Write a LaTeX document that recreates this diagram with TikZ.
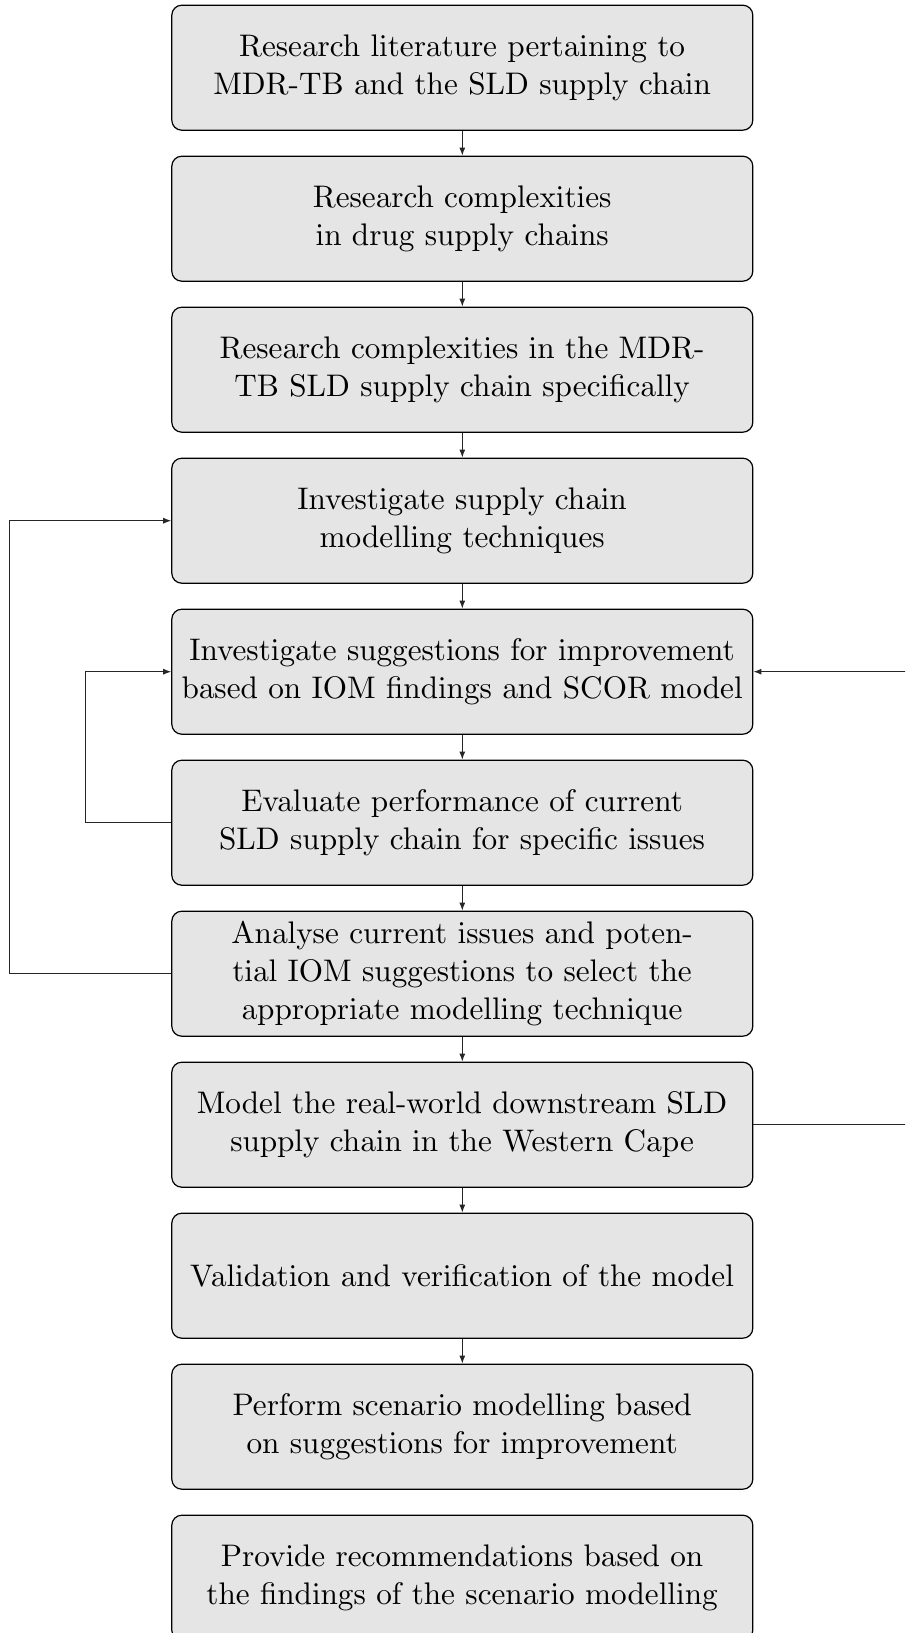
\documentclass[tikz,border=0pt]{standalone}
\usetikzlibrary{arrows.meta}
% Computer Modern at its 10pt design size, set large
\font\boxfont=cmr10 at 15.6pt
\begin{document}
\begin{tikzpicture}[x=1pt,y=1pt,
  stepbox/.style={draw=black,line width=0.6pt,fill=black!10,rounded corners=5pt,
    minimum width=290.5pt,minimum height=62.5pt,inner sep=0pt,align=center,
    font={\fontsize{15.6}{19.2}\selectfont\boxfont}},
  flow/.style={line width=0.5pt,draw=black!85,-{Latex[length=4pt,width=3pt]}},
  link/.style={line width=0.5pt,draw=black!85}]
\clip (0,0) rectangle (452.5,-816.5);
\useasboundingbox (0,0) rectangle (452.5,-816.5);
\def\cx{231.15}
\node[stepbox] (b1) at (\cx,-33.85) {Research literature pertaining to\\MDR-TB and the SLD supply chain};
\node[stepbox] (b2) at (\cx,-109.35) {Research complexities\\in drug supply chains};
\node[stepbox] (b3) at (\cx,-184.85) {Research complexities in the MDR-\\TB SLD supply chain specifically};
\node[stepbox] (b4) at (\cx,-260.35) {Investigate supply chain\\modelling techniques};
\node[stepbox] (b5) at (\cx,-335.85) {Investigate suggestions for improvement\\based on IOM findings and SCOR model};
\node[stepbox] (b6) at (\cx,-411.35) {Evaluate performance of current\\SLD supply chain for specific issues};
\node[stepbox] (b7) at (\cx,-486.85) {Analyse current issues and poten-\\tial IOM suggestions to select the\\appropriate modelling technique};
\node[stepbox] (b8) at (\cx,-562.35) {Model the real-world downstream SLD\\supply chain in the Western Cape};
\node[stepbox] (b9) at (\cx,-637.85) {Validation and verification of the model};
\node[stepbox] (b10) at (\cx,-713.35) {Perform scenario modelling based\\on suggestions for improvement};
\node[stepbox] (b11) at (\cx,-788.85) {Provide recommendations based on\\the findings of the scenario modelling};
% main sequence
\foreach \a/\b in {b1/b2,b2/b3,b3/b4,b4/b5,b5/b6,b6/b7,b7/b8,b8/b9,b9/b10}
  \draw[flow] (\a.south) -- (\b.north);
% feedback loops on the left
\coordinate (outer) at (4.7,0);
\coordinate (inner) at (42.7,0);
\draw[flow] (b7.west) -- (b7.west -| outer) -- (b4.west -| outer) -- (b4.west);
\draw[flow] (b6.west) -- (b6.west -| inner) -- (b5.west -| inner) -- (b5.west);
% feedback loop on the right
\coordinate (far) at (480,0);
\draw[flow] (b8.east) -- (b8.east -| far) -- (b5.east -| far) -- (b5.east);
\end{tikzpicture}
\end{document}
